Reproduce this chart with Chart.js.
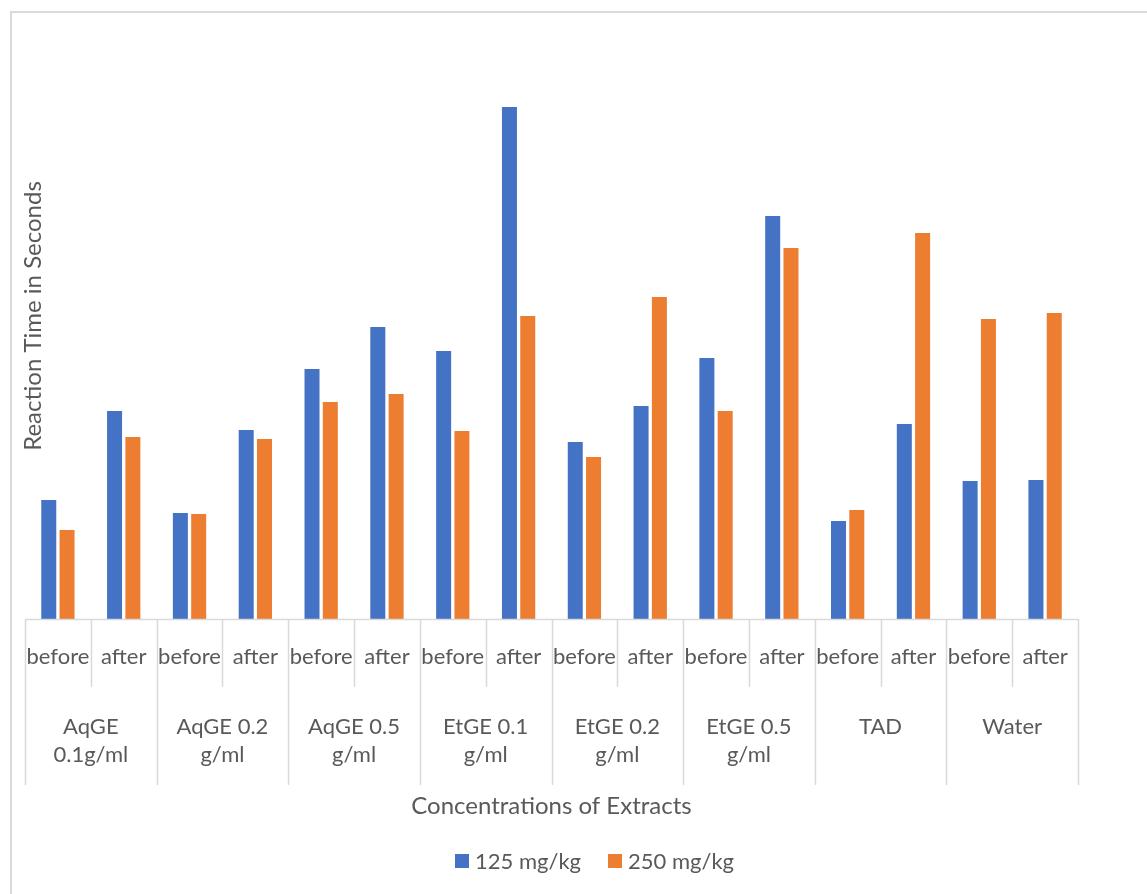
<!DOCTYPE html>
<html>
<head>
<meta charset="utf-8">
<title>Reaction Time by Extract Concentration</title>
<script src="https://cdn.jsdelivr.net/npm/chart.js@4.4.1/dist/chart.umd.min.js"></script>
<style>
  html, body { margin: 0; padding: 0; background: #ffffff; }
  #wrap { width: 1147px; height: 894px; position: relative; }
</style>
</head>
<body>
<div id="wrap"><canvas id="chart" width="1147" height="894"></canvas></div>
<script>
// Inner category (time point) and outer group (extract) labels
const timepoints = ['before', 'after'];
const groups = [
  ['AqGE', '0.1g/ml'],
  ['AqGE 0.2', 'g/ml'],
  ['AqGE 0.5', 'g/ml'],
  ['EtGE 0.1', 'g/ml'],
  ['EtGE 0.2', 'g/ml'],
  ['EtGE 0.5', 'g/ml'],
  ['TAD'],
  ['Water']
];
const seriesNames = ['125 mg/kg', '250 mg/kg'];

// Reaction times (s), ordered group by group: before, after
const dose125 = [2.38, 4.16, 2.12, 3.78, 5.00, 5.84, 5.36, 10.24,
                 3.54, 4.26, 5.22, 8.06, 1.96, 3.90, 2.76, 2.78];
const dose250 = [1.78, 3.64, 2.10, 3.60, 4.34, 4.50, 3.76, 6.06,
                 3.24, 6.44, 4.16, 7.42, 2.18, 7.72, 6.00, 6.12];

const yMax = 12;
const xTitle = 'Concentrations of Extracts';
const yTitle = 'Reaction Time in Seconds';

const categories = [];
groups.forEach((g, gi) => timepoints.forEach(t => categories.push(g.join(' ') + ' | ' + t)));

const FONT = 'Lato, "Open Sans", sans-serif';
const TEXT = '#595959';
const LINE = '#d9d9d9';

// Draws the framed box, the two-level category axis, titles and legend
const decorations = {
  id: 'decorations',
  beforeDraw(chart) {
    const ctx = chart.ctx;
    ctx.save();
    ctx.fillStyle = '#ffffff';
    ctx.fillRect(0, 0, chart.width, chart.height);
    ctx.strokeStyle = LINE;
    ctx.lineWidth = 2;
    ctx.strokeRect(11, 12, chart.width + 40, chart.height + 40);
    ctx.restore();
  },
  afterDraw(chart) {
    const ctx = chart.ctx;
    const x = chart.scales.x;
    const area = chart.chartArea;
    const base = area.bottom;
    const n = categories.length;
    const step = (area.right - area.left) / n;

    ctx.save();
    ctx.strokeStyle = LINE;
    ctx.lineWidth = 1.5;
    // axis line
    ctx.beginPath();
    ctx.moveTo(area.left, base + 0.5);
    ctx.lineTo(area.right, base + 0.5);
    ctx.stroke();

    // separators between categories
    for (let i = 0; i <= n; i++) {
      const px = Math.round(area.left + i * step) + 0.5;
      const groupEdge = (i % timepoints.length === 0);
      ctx.beginPath();
      ctx.moveTo(px, base);
      ctx.lineTo(px, groupEdge ? base + 166 : base + 68);
      ctx.stroke();
    }

    ctx.fillStyle = TEXT;
    ctx.textAlign = 'center';
    ctx.textBaseline = 'middle';
    ctx.font = '22px ' + FONT;
    categories.forEach((c, i) => {
      ctx.fillText(timepoints[i % timepoints.length], x.getPixelForValue(i), base + 38);
    });

    groups.forEach((g, gi) => {
      const cx = (x.getPixelForValue(gi * 2) + x.getPixelForValue(gi * 2 + 1)) / 2;
      g.forEach((line, li) => ctx.fillText(line, cx, base + 108 + li * 28));
    });

    // axis titles
    ctx.font = '24px ' + FONT;
    ctx.fillText(xTitle, (area.left + area.right) / 2, base + 187);
    ctx.save();
    ctx.translate(33, (area.top + area.bottom) / 2 - 3);
    ctx.rotate(-Math.PI / 2);
    ctx.fillText(yTitle, 0, 0);
    ctx.restore();

    // legend
    ctx.font = '22px ' + FONT;
    ctx.textAlign = 'left';
    const box = 14, gapBox = 6, gapItem = 27;
    let lx = 455;
    const ly = 861;
    chart.data.datasets.forEach(d => {
      ctx.fillStyle = d.backgroundColor;
      ctx.fillRect(lx, ly - box / 2, box, box);
      ctx.fillStyle = TEXT;
      ctx.fillText(d.label, lx + box + gapBox, ly + 1);
      lx += box + gapBox + ctx.measureText(d.label).width + gapItem;
    });
    ctx.restore();
  }
};

new Chart(document.getElementById('chart'), {
  type: 'bar',
  data: {
    labels: categories,
    datasets: [
      { label: seriesNames[0], data: dose125, backgroundColor: '#4472C4' },
      { label: seriesNames[1], data: dose250, backgroundColor: '#ED7D31' }
    ]
  },
  options: {
    responsive: false,
    animation: false,
    devicePixelRatio: 1,
    layout: { padding: { left: 25, right: 69, top: 19, bottom: 275 } },
    datasets: { bar: { categoryPercentage: 0.556, barPercentage: 0.82 } },
    plugins: { legend: { display: false }, tooltip: { enabled: false } },
    scales: {
      x: { display: false, offset: true },
      y: { display: false, min: 0, max: yMax }
    }
  },
  plugins: [decorations]
});
</script>
</body>
</html>
